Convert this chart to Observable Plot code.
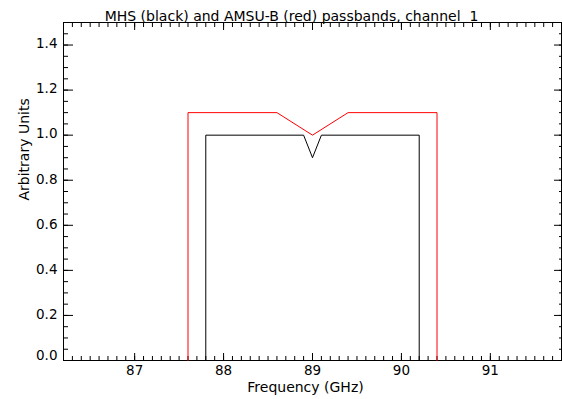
<!DOCTYPE html>
<html><head><meta charset="utf-8">
<script src="https://cdn.jsdelivr.net/npm/d3@7"></script>
<script src="https://cdn.jsdelivr.net/npm/@observablehq/plot@0.6"></script>
<style>
html,body{margin:0;padding:0;background:#fff;}
#chart svg{display:block;}
#chart svg text, #chart svg tspan{white-space:pre;}
</style></head><body><div id="chart"></div>
<script>
const title = "MHS (black) and AMSU-B (red) passbands, channel  1";
const xLabel = "Frequency (GHz)";
const yLabel = "Arbitrary Units";
const mhsFreq = [87.8, 87.8, 88.9, 89.0, 89.1, 90.2, 90.2];
const mhsResp = [0, 1.0, 1.0, 0.9, 1.0, 1.0, 0];
const amsuFreq = [87.6, 87.6, 88.6, 89.0, 89.4, 90.4, 90.4];
const amsuResp = [0, 1.1, 1.1, 1.0, 1.1, 1.1, 0];
const xDomain = [86.2, 91.8];
const yDomain = [0, 1.5];
const xMajor = [87, 88, 89, 90, 91];
const yMajor = [0.0, 0.2, 0.4, 0.6, 0.8, 1.0, 1.2, 1.4];

const xMinor = d3.range(863, 918).map(v => v / 10);
const yMinor = d3.range(1, 30).map(v => v / 20);
const mhs = mhsFreq.map((f, i) => ({f, r: mhsResp[i]}));
const amsu = amsuFreq.map((f, i) => ({f, r: amsuResp[i]}));
const blank = () => "";
const fmt1 = d3.format(".1f");

const chart = Plot.plot({
  width: 562, height: 399,
  marginLeft: 63, marginRight: 1, marginTop: 22, marginBottom: 39,
  style: {fontFamily: "'DejaVu Sans', sans-serif", fontSize: "14px", color: "black", background: "white"},
  x: {domain: xDomain, axis: null},
  y: {domain: yDomain, axis: null},
  marks: [
    Plot.frame({stroke: "black"}),
    // minor ticks
    Plot.axisX(xMinor, {anchor: "bottom", tickSize: -4, tickFormat: blank, label: null}),
    Plot.axisX(xMinor, {anchor: "top", tickSize: -4, tickFormat: blank, label: null}),
    Plot.axisY(yMinor, {anchor: "left", tickSize: -5, tickFormat: blank, label: null}),
    Plot.axisY(yMinor, {anchor: "right", tickSize: -3, tickFormat: blank, label: null}),
    // major ticks
    Plot.axisX(xMajor, {anchor: "bottom", tickSize: -7, tickFormat: blank, label: null}),
    Plot.axisX(xMajor, {anchor: "top", tickSize: -7, tickFormat: blank, label: null}),
    Plot.axisY(yMajor, {anchor: "left", tickSize: -10, tickFormat: blank, label: null}),
    Plot.axisY(yMajor, {anchor: "right", tickSize: -8, tickFormat: blank, label: null}),
    // tick labels
    Plot.axisX(xMajor, {anchor: "bottom", tickSize: 0, tickPadding: 5, fontSize: 13.5, tickFormat: d => String(d), label: null}),
    Plot.axisY(yMajor.slice(1), {anchor: "left", tickSize: 0, tickPadding: 6, fontSize: 13.5, tickFormat: fmt1, dy: -1, label: null}),
    Plot.axisY(yMajor.slice(0, 1), {anchor: "left", tickSize: 0, tickPadding: 6, fontSize: 13.5, tickFormat: fmt1, dy: -5, label: null}),
    // data
    Plot.line(amsu, {x: "f", y: "r", stroke: "#ff0000", strokeWidth: 1}),
    Plot.line(mhs, {x: "f", y: "r", stroke: "black", strokeWidth: 1}),
    // titles
    Plot.text([title], {frameAnchor: "top", dy: -11, dx: -21, fill: "black"}),
    Plot.text([xLabel], {frameAnchor: "bottom", dy: 31, dx: -7, fill: "black"}),
    Plot.text([yLabel], {frameAnchor: "left", rotate: -90, dx: -39, dy: 9, fill: "black"})
  ]
});
document.getElementById("chart").appendChild(chart);
</script></body></html>
